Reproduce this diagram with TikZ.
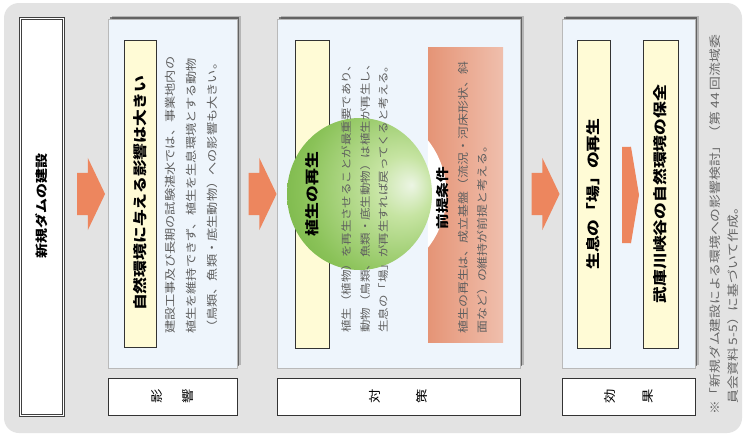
\documentclass[tikz,border=0pt]{standalone}
\usepackage{fontspec}
\setmainfont{Noto Sans CJK JP}[FakeStretch=1.2]
\usepackage{xcolor}
\usetikzlibrary{positioning, shapes.arrows, shadows}

\definecolor{bggray}{RGB}{227,227,227}
\definecolor{panelblue}{RGB}{238,245,252}
\definecolor{cream}{RGB}{255,251,214}
\definecolor{arroworange}{RGB}{237,134,94}
\definecolor{salmon}{RGB}{229,148,118}
\definecolor{bodygray}{RGB}{95,95,95}
\definecolor{ballA}{RGB}{236,245,228}
\definecolor{ballB}{RGB}{198,228,162}
\definecolor{ballC}{RGB}{138,194,88}
\definecolor{ballD}{RGB}{96,164,50}
\definecolor{ballE}{RGB}{66,136,28}
\pgfdeclareradialshading{greenball}{\pgfpoint{18bp}{3bp}}{color(0bp)=(ballA); color(10bp)=(ballB); color(30bp)=(ballC); color(50bp)=(ballD); color(68bp)=(ballE)}

\begin{document}
\begin{tikzpicture}[x=1pt, y=-1pt,
    panel/.style={draw=gray!55, fill=panelblue, inner sep=0pt,
      drop shadow={shadow xshift=3.5pt, shadow yshift=3.5pt, fill=black, opacity=0.2},
      drop shadow={shadow xshift=2pt, shadow yshift=2pt, fill=black, opacity=0.45}},
    labelbox/.style={draw=black!80, fill=white, line width=0.9pt, rotate=90, inner sep=0pt, align=center},
    titlebox/.style={draw=black!80, fill=cream, line width=0.9pt, rotate=90, inner sep=0pt, font=\fontsize{14}{16}\selectfont\bfseries},
    bodytext/.style={rotate=90, anchor=north west, inner sep=0pt, align=left, text=bodygray},
    bigarrow/.style={single arrow, fill=arroworange, inner xsep=0pt, inner ysep=21pt, minimum height=28,
      single arrow head extend=15pt, single arrow tip angle=129}]

    % Background
    \fill[white] (0,0) rectangle (747,439);
    \fill[bggray, rounded corners=15] (4,3) rectangle (742,433);

    % Dam box
    \node[rotate=90, draw=black!75, line width=0.7pt, double=white, double distance=1.5pt, fill=white,
      minimum width=397, minimum height=43, inner sep=0pt] (dam) at (42,217) {};
    \node[rotate=90, inner sep=0pt, font=\fontsize{12.5}{14}\selectfont\bfseries] (damtext) at (42,206) {新規ダムの建設};

    % Arrows between stages
    \node[bigarrow] (arr1) at (86,194) {};
    \node[bigarrow] (arr2) at (257.5,194) {};
    \node[bigarrow] (arr3) at (540.5,194) {};

    % Impact
    \node[panel, minimum width=129, minimum height=349] (impact) at (172.5,193.5) {};
    \node[titlebox, minimum width=307, minimum height=32] (impacttitle) at (140,193.5) {自然環境に与える影響は大きい};
    \node[bodytext, font=\fontsize{11}{21}\selectfont] (impacttext) at (165.5,334)
      {建設工事及び長期の試験湛水では、事業地内の\\植生を維持できず、植生を生息環境とする動物\\（鳥類、魚類・底生動物）への影響も大きい。};
    \node[labelbox, minimum width=37, minimum height=129, font=\fontsize{12}{31}\selectfont] (impactlabel) at (172.5,396.5) {影\\響};

    % Measures
    \node[panel, minimum width=243, minimum height=349] (measure) at (398.5,193.5) {};
    \node[titlebox, minimum width=308, minimum height=34] (measuretitle) at (312,194) {};
    \node[left color=salmon, middle color=salmon!32!white, right color=salmon!60!white,
      minimum width=75, minimum height=295, inner sep=0pt] (premise) at (465.5,194.5) {};
    \begin{scope}
      \clip (premise.north west) rectangle (premise.south east);
      \fill[white] (359.5,194) circle (87);
    \end{scope}
    \shade[shading=greenball] (359.5,194) ellipse [x radius=72.5, y radius=76];
    \node[rotate=90, inner sep=0pt, font=\fontsize{14}{16}\selectfont\bfseries] (measurename) at (312,194) {植生の再生};
    \node[bodytext, font=\fontsize{10.4}{18.5}\selectfont] (measuretext) at (341.8,333)
      {植生（植物）を再生させることが最重要であり、\\動物（鳥類、魚類・底生動物）は植生が再生し、\\生息の「場」が再生すれば戻ってくると考える。};
    \node[rotate=90, inner sep=0pt, font=\fontsize{13}{15}\selectfont\bfseries] (premisetitle) at (443,198) {前提条件};
    \node[bodytext, font=\fontsize{10.8}{19}\selectfont] (premisetext) at (457.6,334)
      {植生の再生は、成立基盤（流況・河床形状、斜\\面など）の維持が前提と考える。};
    \node[labelbox, minimum width=37, minimum height=243, font=\fontsize{12}{47}\selectfont] (measurelabel) at (398.5,396.5) {対\\策};

    % Effect
    \node[panel, minimum width=133, minimum height=349] (effect) at (628.5,193.5) {};
    \node[titlebox, minimum width=308, minimum height=33] (habitat) at (593.5,194) {生息の「場」の再生};
    \node[single arrow, fill=arroworange, inner xsep=0pt, inner ysep=48pt, minimum height=17,
      single arrow head extend=0.5pt, single arrow tip angle=161] (arr4) at (626.5,195) {};
    \node[titlebox, minimum width=308, minimum height=35] (gorge) at (660.5,194) {武庫川峡谷の自然環境の保全};
    \node[labelbox, minimum width=37, minimum height=133, font=\fontsize{12}{38}\selectfont] (effectlabel) at (628.5,396.5) {効\\果};

    % Note
    \node[bodytext, text=black!60, font=\fontsize{11.5}{18}\selectfont] (note) at (709,415)
      {※「新規ダム建設による環境への影響検討」（第 44 回流域委\\\hspace*{1em}員会資料 5-5）に基づいて作成。};
\end{tikzpicture}
\end{document}
